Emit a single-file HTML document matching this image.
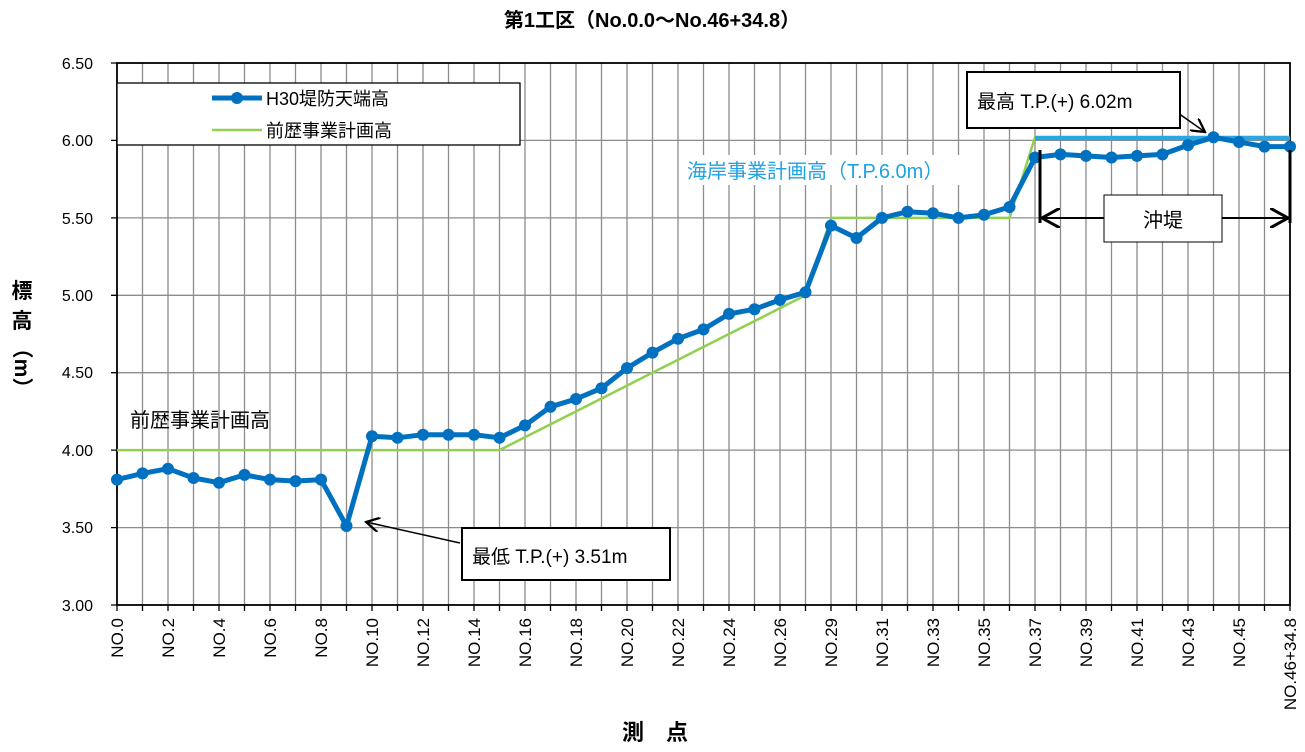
<!DOCTYPE html>
<html><head><meta charset="utf-8"><style>
body{margin:0;background:#fff}
text{font-family:"Liberation Sans","Noto Sans CJK JP",sans-serif}
</style></head><body>
<svg width="1305" height="747" xmlns="http://www.w3.org/2000/svg">
<defs><marker id="ah" markerWidth="10" markerHeight="10" refX="9" refY="5" orient="auto"><path d="M0,0 L9,5 L0,10" fill="none" stroke="#000" stroke-width="1.5"/></marker></defs>
<rect width="1305" height="747" fill="#fff"/>
<text x="652" y="27" font-size="20" font-weight="bold" text-anchor="middle">第1工区（No.0.0～No.46+34.8）</text>
<g stroke="#8c8c8c" stroke-width="1.3">
<path d="M142.5 63V605M168 63V605M193.5 63V605M219 63V605M244.5 63V605M270 63V605M295.5 63V605M321 63V605M346.5 63V605M372 63V605M397.5 63V605M423 63V605M448.5 63V605M474 63V605M499.5 63V605M525 63V605M550.5 63V605M576 63V605M601.5 63V605M627 63V605M652.5 63V605M678 63V605M703.5 63V605M729 63V605M754.5 63V605M780 63V605M805.5 63V605M831 63V605M856.5 63V605M882 63V605M907.5 63V605M933 63V605M958.5 63V605M984 63V605M1009.5 63V605M1035 63V605M1060.5 63V605M1086 63V605M1111.5 63V605M1137 63V605M1162.5 63V605M1188 63V605M1213.5 63V605M1239 63V605M1264.5 63V605"/>
<path d="M117 527.6H1290M117 450.1H1290M117 372.7H1290M117 295.3H1290M117 217.9H1290M117 140.4H1290"/>
</g>
<g stroke="#000" stroke-width="1.3">
<path d="M111 63H117M111 140.4H117M111 217.9H117M111 295.3H117M111 372.7H117M111 450.1H117M111 527.6H117M111 605H117"/>
<path d="M117 605V611M142.5 605V611M168 605V611M193.5 605V611M219 605V611M244.5 605V611M270 605V611M295.5 605V611M321 605V611M346.5 605V611M372 605V611M397.5 605V611M423 605V611M448.5 605V611M474 605V611M499.5 605V611M525 605V611M550.5 605V611M576 605V611M601.5 605V611M627 605V611M652.5 605V611M678 605V611M703.5 605V611M729 605V611M754.5 605V611M780 605V611M805.5 605V611M831 605V611M856.5 605V611M882 605V611M907.5 605V611M933 605V611M958.5 605V611M984 605V611M1009.5 605V611M1035 605V611M1060.5 605V611M1086 605V611M1111.5 605V611M1137 605V611M1162.5 605V611M1188 605V611M1213.5 605V611M1239 605V611M1264.5 605V611M1290 605V611"/>
</g>
<rect x="117" y="63" width="1173" height="542" fill="none" stroke="#000" stroke-width="1.8"/>
<g font-size="16" text-anchor="end">
<text x="93" y="69">6.50</text><text x="93" y="146">6.00</text><text x="93" y="224">5.50</text><text x="93" y="301">5.00</text><text x="93" y="378">4.50</text><text x="93" y="456">4.00</text><text x="93" y="533">3.50</text><text x="93" y="611">3.00</text>
</g>
<g font-size="17" text-anchor="end">
<text transform="translate(123,618) rotate(-90)">NO.0</text>
<text transform="translate(174,618) rotate(-90)">NO.2</text>
<text transform="translate(225,618) rotate(-90)">NO.4</text>
<text transform="translate(276,618) rotate(-90)">NO.6</text>
<text transform="translate(327,618) rotate(-90)">NO.8</text>
<text transform="translate(378,618) rotate(-90)">NO.10</text>
<text transform="translate(429,618) rotate(-90)">NO.12</text>
<text transform="translate(480,618) rotate(-90)">NO.14</text>
<text transform="translate(531,618) rotate(-90)">NO.16</text>
<text transform="translate(582,618) rotate(-90)">NO.18</text>
<text transform="translate(633,618) rotate(-90)">NO.20</text>
<text transform="translate(684,618) rotate(-90)">NO.22</text>
<text transform="translate(735,618) rotate(-90)">NO.24</text>
<text transform="translate(786,618) rotate(-90)">NO.26</text>
<text transform="translate(837,618) rotate(-90)">NO.29</text>
<text transform="translate(888,618) rotate(-90)">NO.31</text>
<text transform="translate(939,618) rotate(-90)">NO.33</text>
<text transform="translate(990,618) rotate(-90)">NO.35</text>
<text transform="translate(1041,618) rotate(-90)">NO.37</text>
<text transform="translate(1092,618) rotate(-90)">NO.39</text>
<text transform="translate(1143,618) rotate(-90)">NO.41</text>
<text transform="translate(1194,618) rotate(-90)">NO.43</text>
<text transform="translate(1245,618) rotate(-90)">NO.45</text>
<text transform="translate(1296,618) rotate(-90)">NO.46+34.8</text>
</g>
<g font-size="21" font-weight="bold" text-anchor="middle">
<text x="22" y="298">標</text>
<text x="22" y="328">高</text>
<text transform="translate(15,368) rotate(90)" text-anchor="middle">（m）</text>
</g>
<text x="655" y="740" font-size="22" font-weight="bold" text-anchor="middle">測　点</text>
<polyline fill="none" stroke="#92d050" stroke-width="2.5" points="117,450.1 499.5,450.1 805.5,295.3 831,217.9 1009.5,217.9 1035,137.3 1290,137.3"/>
<line x1="1035" y1="138" x2="1290" y2="138" stroke="#2aa6e0" stroke-width="4.5"/>
<polyline fill="none" stroke="#0070c0" stroke-width="5" stroke-linejoin="round" points="117,479.6 142.5,473.4 168,468.7 193.5,478 219,482.7 244.5,474.9 270,479.6 295.5,481.1 321,479.6 346.5,526 372,436.2 397.5,437.8 423,434.7 448.5,434.7 474,434.7 499.5,437.8 525,425.4 550.5,406.8 576,399 601.5,388.2 627,368.1 652.5,352.6 678,338.7 703.5,329.4 729,313.9 754.5,309.2 780,299.9 805.5,292.2 831,225.6 856.5,238 882,217.9 907.5,211.7 933,213.2 958.5,217.9 984,214.8 1009.5,207 1035,157.5 1060.5,154.4 1086,155.9 1111.5,157.5 1137,155.9 1162.5,154.4 1188,145.1 1213.5,137.3 1239,142 1264.5,146.6 1290,146.6"/>
<g fill="#0070c0">
<circle cx="117" cy="479.6" r="6"/><circle cx="142.5" cy="473.4" r="6"/><circle cx="168" cy="468.7" r="6"/><circle cx="193.5" cy="478" r="6"/><circle cx="219" cy="482.7" r="6"/><circle cx="244.5" cy="474.9" r="6"/><circle cx="270" cy="479.6" r="6"/><circle cx="295.5" cy="481.1" r="6"/><circle cx="321" cy="479.6" r="6"/><circle cx="346.5" cy="526" r="6"/><circle cx="372" cy="436.2" r="6"/><circle cx="397.5" cy="437.8" r="6"/><circle cx="423" cy="434.7" r="6"/><circle cx="448.5" cy="434.7" r="6"/><circle cx="474" cy="434.7" r="6"/><circle cx="499.5" cy="437.8" r="6"/><circle cx="525" cy="425.4" r="6"/><circle cx="550.5" cy="406.8" r="6"/><circle cx="576" cy="399" r="6"/><circle cx="601.5" cy="388.2" r="6"/><circle cx="627" cy="368.1" r="6"/><circle cx="652.5" cy="352.6" r="6"/><circle cx="678" cy="338.7" r="6"/><circle cx="703.5" cy="329.4" r="6"/><circle cx="729" cy="313.9" r="6"/><circle cx="754.5" cy="309.2" r="6"/><circle cx="780" cy="299.9" r="6"/><circle cx="805.5" cy="292.2" r="6"/><circle cx="831" cy="225.6" r="6"/><circle cx="856.5" cy="238" r="6"/><circle cx="882" cy="217.9" r="6"/><circle cx="907.5" cy="211.7" r="6"/><circle cx="933" cy="213.2" r="6"/><circle cx="958.5" cy="217.9" r="6"/><circle cx="984" cy="214.8" r="6"/><circle cx="1009.5" cy="207" r="6"/><circle cx="1035" cy="157.5" r="6"/><circle cx="1060.5" cy="154.4" r="6"/><circle cx="1086" cy="155.9" r="6"/><circle cx="1111.5" cy="157.5" r="6"/><circle cx="1137" cy="155.9" r="6"/><circle cx="1162.5" cy="154.4" r="6"/><circle cx="1188" cy="145.1" r="6"/><circle cx="1213.5" cy="137.3" r="6"/><circle cx="1239" cy="142" r="6"/><circle cx="1264.5" cy="146.6" r="6"/><circle cx="1290" cy="146.6" r="6"/>
</g>
<rect x="117" y="83" width="403" height="62" fill="#fff" stroke="#000" stroke-width="1.3"/>
<line x1="212" y1="98" x2="262" y2="98" stroke="#0070c0" stroke-width="5"/><circle cx="237" cy="98" r="6" fill="#0070c0"/>
<text x="266" y="105" font-size="18">H30堤防天端高</text>
<line x1="212" y1="130" x2="262" y2="130" stroke="#92d050" stroke-width="2.5"/>
<text x="266" y="137" font-size="18">前歴事業計画高</text>
<text x="130" y="427" font-size="20">前歴事業計画高</text>
<rect x="683" y="155" width="300" height="30" fill="#fff"/>
<text x="687" y="178" font-size="20" fill="#1fa3e0">海岸事業計画高（T.P.6.0m）</text>
<line x1="460" y1="543" x2="366" y2="522" stroke="#000" stroke-width="1.5" marker-end="url(#ah)"/>
<rect x="462" y="528" width="208" height="52" fill="#fff" stroke="#000" stroke-width="2"/>
<text x="472" y="563" font-size="19">最低 T.P.(+) 3.51m</text>
<line x1="1178" y1="113" x2="1205" y2="132" stroke="#000" stroke-width="1.5" marker-end="url(#ah)"/>
<rect x="967" y="72" width="213" height="56" fill="#fff" stroke="#000" stroke-width="2"/>
<text x="977" y="108" font-size="19">最高 T.P.(+) 6.02m</text>
<line x1="1040" y1="150" x2="1040" y2="223" stroke="#000" stroke-width="3"/>
<line x1="1290" y1="150" x2="1290" y2="223" stroke="#000" stroke-width="3"/>
<line x1="1042" y1="218" x2="1288" y2="218" stroke="#000" stroke-width="2" marker-end="url(#ah)"/>
<line x1="1288" y1="218" x2="1042" y2="218" stroke="#000" stroke-width="2" marker-end="url(#ah)"/>
<rect x="1104" y="195" width="118" height="47" fill="#fff" stroke="#000" stroke-width="1"/>
<text x="1163" y="227" font-size="20" text-anchor="middle">沖堤</text>
</svg>
</body></html>
